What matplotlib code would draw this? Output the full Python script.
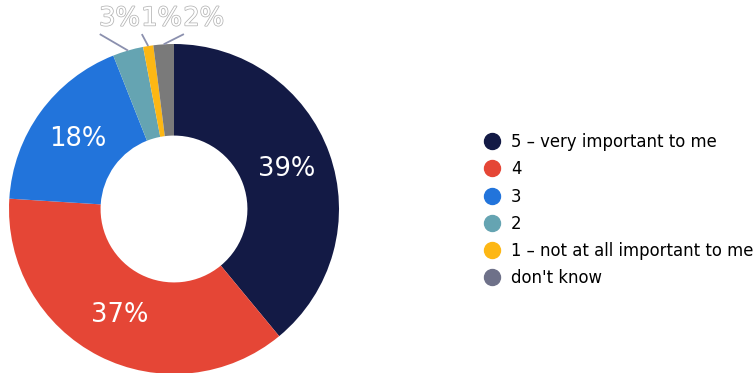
import numpy as np
import matplotlib
matplotlib.use("Agg")
import matplotlib.pyplot as plt
import matplotlib.patheffects as pe
from matplotlib.lines import Line2D

plt.rcParams['font.family'] = ['DejaVu Sans']

# survey answers, share of respondents (%)
labels = ["5 \u2013 very important to me", "4", "3", "2",
          "1 \u2013 not at all important to me", "don't know"]
values = [39, 37, 18, 3, 1, 2]
slice_colors = ["#131A45", "#E54636", "#2274DB", "#65A4B2", "#FDB714", "#7A7A7A"]
legend_colors = ["#131A45", "#E54636", "#2274DB", "#65A4B2", "#FDB714", "#6E7189"]

HOLE = 0.445          # inner radius relative to outer
SMALL = 5             # slices under this get a label above the ring

fig = plt.figure(figsize=(7.56, 3.73), dpi=100)
ax = fig.add_axes([9 / 756, (373 - 209 - 165) / 373, 330 / 756, 330 / 373])

wedges, _ = ax.pie(values, colors=slice_colors, startangle=90, counterclock=False,
                   radius=1.0, wedgeprops=dict(width=1 - HOLE, linewidth=0))
ax.set_xlim(-1, 1)
ax.set_ylim(-1, 1)
ax.set_aspect("equal")
ax.axis("off")

outline = [pe.Stroke(linewidth=1.1, foreground="#b4b4b4"), pe.Normal()]
small_idx = [i for i, v in enumerate(values) if v < SMALL]
row_x0 = -0.33
row_step = 0.255
for i, (w, v) in enumerate(zip(wedges, values)):
    mid = np.deg2rad((w.theta1 + w.theta2) / 2)
    if v >= SMALL:
        r = (1 + HOLE) / 2
        ax.text(r * np.cos(mid), r * np.sin(mid), f"{v}%", ha="center", va="center",
                color="white", fontsize=18.5, clip_on=False)
    else:
        k = small_idx.index(i)
        lx = row_x0 + k * row_step
        ax.text(lx, 1.155, f"{v}%", ha="center", va="center", color="white",
                fontsize=18.5, path_effects=outline, clip_on=False)
        ax.plot([np.cos(mid), lx - 0.12], [np.sin(mid), 1.06], color="#8b90ae",
                linewidth=1.3, clip_on=False, solid_capstyle="butt")

handles = [Line2D([], [], marker="o", linestyle="none", markersize=11.5,
                  markerfacecolor=c, markeredgecolor=c) for c in legend_colors]
fig.legend(handles, labels, loc="upper left", bbox_to_anchor=(482 / 756, 1 - 133 / 373),
           frameon=False, fontsize=11.9, handletextpad=0.55, labelspacing=0.56,
           handlelength=1.2, borderpad=0, borderaxespad=0)

fig.savefig("out.png", dpi=100)
